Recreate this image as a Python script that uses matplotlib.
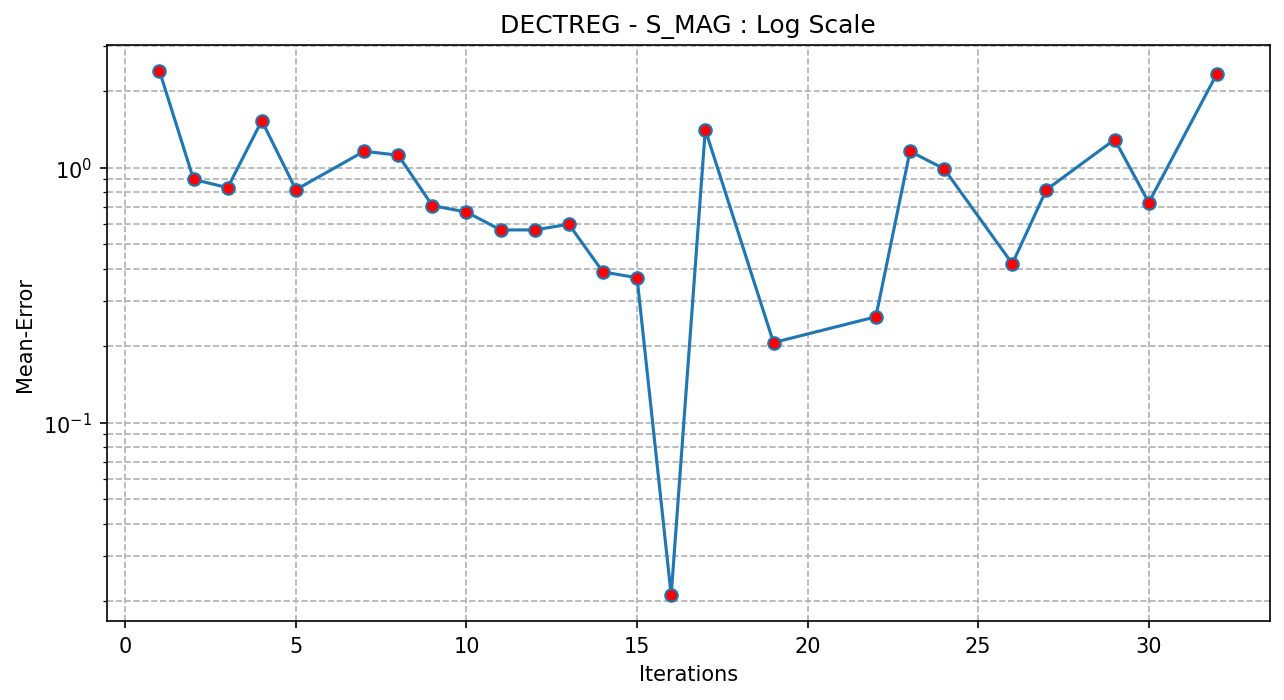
import matplotlib
matplotlib.use("Agg")
import matplotlib.pyplot as plt

iterations = [1, 2, 3, 4, 5, 7, 8, 9, 10, 11, 12, 13, 14, 15, 16, 17, 19, 22, 23, 24, 26, 27, 29, 30, 32]
mean_error = [2.40, 0.90, 0.835, 1.53, 0.82, 1.16, 1.12, 0.71, 0.67, 0.57, 0.57, 0.60, 0.39, 0.37,
              0.021, 1.41, 0.206, 0.26, 1.16, 0.99, 0.42, 0.82, 1.29, 0.73, 2.34]

fig, ax = plt.subplots(figsize=(8.56, 4.673), dpi=150)
ax.plot(iterations, mean_error, color="#1f77b4", marker="o", markerfacecolor="red",
        markeredgecolor="#1f77b4", markersize=6)
ax.set_yscale("log")
ax.grid(True, which="both", linestyle="--", color="#b0b0b0")
ax.set_xlabel("Iterations")
ax.set_ylabel("Mean-Error")
ax.set_title("DECTREG - S_MAG : Log Scale")
fig.subplots_adjust(left=0.083, right=0.989, top=0.935, bottom=0.112)
fig.savefig("out.png", dpi=150)
